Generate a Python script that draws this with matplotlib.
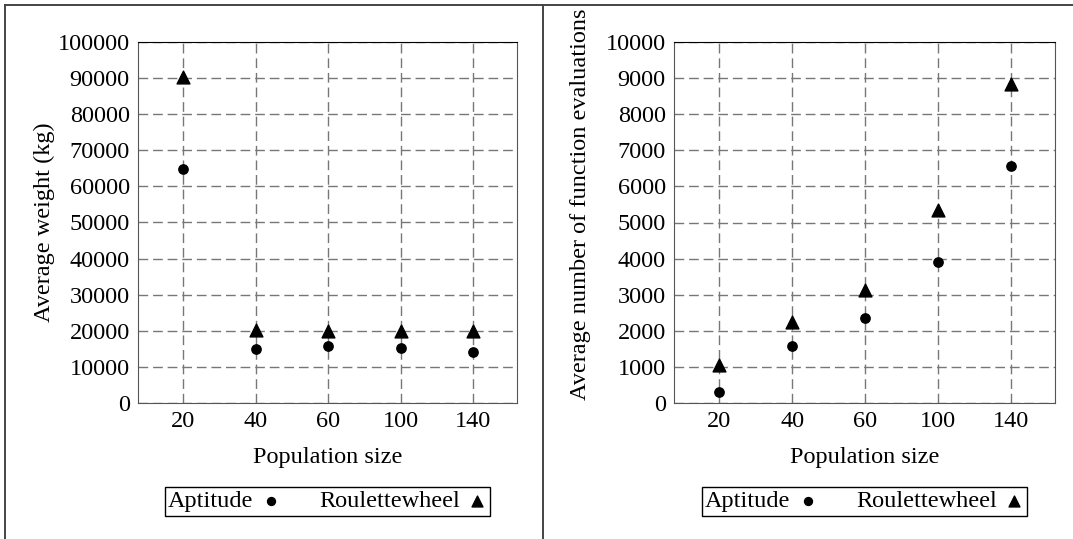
import matplotlib
matplotlib.use("Agg")
import matplotlib.pyplot as plt
from matplotlib.lines import Line2D

plt.rcParams['font.family'] = ['Liberation Serif', 'DejaVu Serif']
plt.rcParams['font.size'] = 17.5

# population sizes (plotted as evenly spaced categories)
populations = ["20", "40", "60", "100", "140"]

# average weight (kg)
weight_aptitude = [64800, 15000, 15700, 15200, 14100]
weight_roulette = [90300, 20100, 19900, 19900, 20000]

# average number of function evaluations
evals_aptitude = [300, 1570, 2350, 3900, 6570]
evals_roulette = [1050, 2240, 3130, 5350, 8850]

W, H = 1073, 539
fig = plt.figure(figsize=(W / 100, H / 100), dpi=100)

# table-style border lines around the two panels
border = dict(color="#444444", lw=1.4, transform=fig.transFigure)
fig.add_artist(Line2D([5 / W, 1], [1 - 5 / H, 1 - 5 / H], **border))
fig.add_artist(Line2D([5 / W, 5 / W], [0, 1 - 5 / H], **border))
fig.add_artist(Line2D([543 / W, 543 / W], [0, 1 - 5 / H], **border))


def make_panel(left_px, width_px, aptitude, roulette, yticks, ylabel, label_y):
    ax = fig.add_axes([left_px / W, (H - 403) / H, width_px / W, 361 / H])
    x = list(range(len(populations)))
    ax.scatter(x, aptitude, marker="o", s=45, color="black", zorder=3,
               label="Aptitude")
    ax.scatter(x, roulette, marker="^", s=85, color="black", zorder=3,
               label="Roulettewheel")
    ax.set_xlim(-0.62, len(populations) - 1 + 0.6)
    ax.set_ylim(yticks[0], yticks[-1])
    ax.set_xticks(x)
    ax.set_xticklabels(populations)
    ax.set_yticks(yticks)
    ax.tick_params(length=0, pad=6)
    ax.grid(True, color="#777777", linestyle=(0, (7, 3.5)), lw=1)
    ax.set_axisbelow(True)
    for side in ("left", "bottom", "right"):
        ax.spines[side].set_color("#555555")
    ax.spines["top"].set_color("black")
    ax.set_xlabel("Population size")
    ax.xaxis.set_label_coords(0.5, -0.122)
    ax.set_ylabel(ylabel)
    ax.yaxis.set_label_coords(-0.218, label_y)
    leg = ax.legend(loc="center", bbox_to_anchor=(0.5, -0.272), ncol=2,
                    markerfirst=False, fancybox=False, framealpha=1,
                    edgecolor="black", handletextpad=0.3, columnspacing=1.6,
                    borderpad=0.15, handlelength=0.8, scatterpoints=1,
                    markerscale=0.85)
    leg.get_frame().set_linewidth(1.0)
    return ax


make_panel(138, 379, weight_aptitude, weight_roulette,
           list(range(0, 100001, 10000)), "Average weight (kg)", 0.5)
make_panel(674, 381, evals_aptitude, evals_roulette,
           list(range(0, 10001, 1000)), "Average number of function evaluations",
           0.55)

fig.savefig("out.png", dpi=100)
